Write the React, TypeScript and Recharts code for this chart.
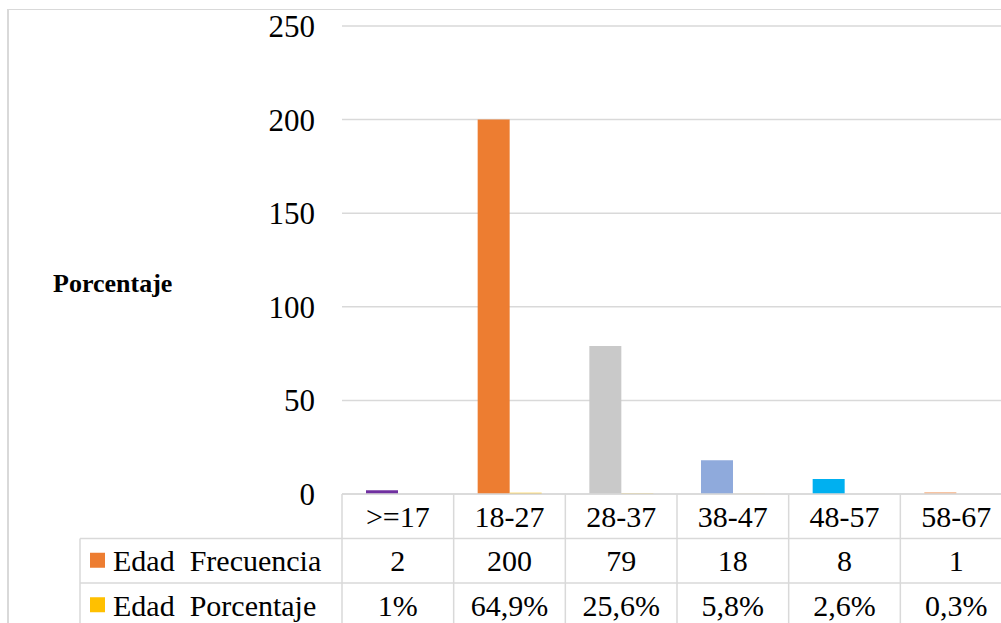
import { BarChart, Bar, XAxis, YAxis, CartesianGrid, Cell } from 'recharts';

const categories = ['>=17', '18-27', '28-37', '38-47', '48-57', '58-67'];
const frecuencia = [2, 200, 79, 18, 8, 1];
const porcentaje = [0.01, 0.649, 0.256, 0.058, 0.026, 0.003];
const porcentajeLabels = ['1%', '64,9%', '25,6%', '5,8%', '2,6%', '0,3%'];
const yTicks = [0, 50, 100, 150, 200, 250];
const seriesNames = ['Edad  Frecuencia', 'Edad  Porcentaje'];
const axisTitle = 'Porcentaje';

const barColors = ['#7030A0', '#ED7D31', '#C9C9C9', '#8FAADC', '#00B0F0', '#F4B183'];
const seriesColors = ['#ED7D31', '#FFC000'];

const FONT = 'Liberation Serif, Times New Roman, DejaVu Serif, serif';
const GRID = '#D9D9D9';

// layout
const CHART_W = 1013;
const CHART_H = 640;
const MARGIN = { top: 26, right: 1, bottom: 11, left: 0 };
const Y_W = 342;
const X_H = 135;
const PLOT_BOTTOM = CHART_H - MARGIN.bottom - X_H;
const BAND = (CHART_W - MARGIN.left - MARGIN.right - Y_W) / categories.length;
const ROW_H = 44.5;
const LEGEND_LEFT = 80;

const data = categories.map((c, i) => ({
  name: c,
  freq: frecuencia[i],
  pct: porcentaje[i],
}));

const textStyle = { fontFamily: FONT };

// the data table under the plot, drawn one column per category tick
function TableTick(props: any) {
  const { x, index } = props;
  const left = x - BAND / 2;
  const right = x + BAND / 2;
  const rows = [categories[index], String(frecuencia[index]), porcentajeLabels[index]];
  const bottom = PLOT_BOTTOM + ROW_H * 3;
  return (
    <g>
      {index === 0 && (
        <g>
          <line x1={left} y1={PLOT_BOTTOM} x2={left} y2={bottom} stroke={GRID} strokeWidth={1.5} />
          <line x1={LEGEND_LEFT} y1={PLOT_BOTTOM + ROW_H} x2={LEGEND_LEFT} y2={bottom} stroke={GRID} strokeWidth={1.5} />
          {[1, 2].map((r) => (
            <line key={r} x1={LEGEND_LEFT} y1={PLOT_BOTTOM + ROW_H * r} x2={left} y2={PLOT_BOTTOM + ROW_H * r} stroke={GRID} strokeWidth={1.5} />
          ))}
          {seriesNames.map((s, i) => {
            const cy = PLOT_BOTTOM + ROW_H * (i + 1) + ROW_H / 2;
            return (
              <g key={s}>
                <rect x={LEGEND_LEFT + 10} y={cy - 8} width={15} height={15} fill={seriesColors[i]} />
                <text x={LEGEND_LEFT + 33} y={cy} dy="0.35em" fontSize={30} fill="#000" style={{ ...textStyle, whiteSpace: 'pre' }}>
                  {s}
                </text>
              </g>
            );
          })}
        </g>
      )}
      <line x1={right} y1={PLOT_BOTTOM} x2={right} y2={bottom} stroke={GRID} strokeWidth={1.5} />
      {[1, 2].map((r) => (
        <line key={r} x1={left} y1={PLOT_BOTTOM + ROW_H * r} x2={right} y2={PLOT_BOTTOM + ROW_H * r} stroke={GRID} strokeWidth={1.5} />
      ))}
      {rows.map((t, r) => (
        <text key={r} x={x} y={PLOT_BOTTOM + ROW_H * r + ROW_H / 2} dy="0.35em" textAnchor="middle" fontSize={30} fill="#000" style={textStyle}>
          {t}
        </text>
      ))}
    </g>
  );
}

function YTitle(props: any) {
  const vb = props.viewBox || {};
  return (
    <text x={(vb.x || 0) + 53} y={(vb.y || 0) + (vb.height || 0) / 2 + 23} dy="0.35em" fontSize={26} fontWeight="bold" fill="#000" style={textStyle}>
      {axisTitle}
    </text>
  );
}

export default function App() {
  return (
    <div style={{ position: 'absolute', left: 0, top: 0, width: 1001, height: 623, overflow: 'hidden', background: '#fff', fontFamily: FONT }}>
      <div style={{ position: 'absolute', left: 7, top: 9, width: 2000, height: 2000, borderLeft: `2px solid ${GRID}`, borderTop: `1px solid ${GRID}`, pointerEvents: 'none' }} />
      <div style={{ position: 'absolute', left: 0, top: 0 }}>
        <BarChart width={CHART_W} height={CHART_H} data={data} margin={MARGIN} barCategoryGap={24} barGap={0}>
          <CartesianGrid horizontal vertical={false} stroke={GRID} strokeWidth={1.5} />
          <XAxis
            dataKey="name"
            height={X_H}
            interval={0}
            tickLine={false}
            tickSize={0}
            axisLine={{ stroke: GRID, strokeWidth: 1.5 }}
            tick={<TableTick />}
          />
          <YAxis
            width={Y_W}
            domain={[0, 250]}
            ticks={yTicks}
            interval={0}
            axisLine={false}
            tickLine={false}
            tickSize={0}
            tickMargin={27}
            tick={{ fontSize: 31, fill: '#000', style: textStyle }}
            label={<YTitle />}
          />
          <Bar dataKey="freq" name={seriesNames[0]} isAnimationActive={false}>
            {data.map((d, i) => (
              <Cell key={d.name} fill={barColors[i]} />
            ))}
          </Bar>
          <Bar dataKey="pct" name={seriesNames[1]} fill={seriesColors[1]} isAnimationActive={false} />
        </BarChart>
      </div>
    </div>
  );
}
